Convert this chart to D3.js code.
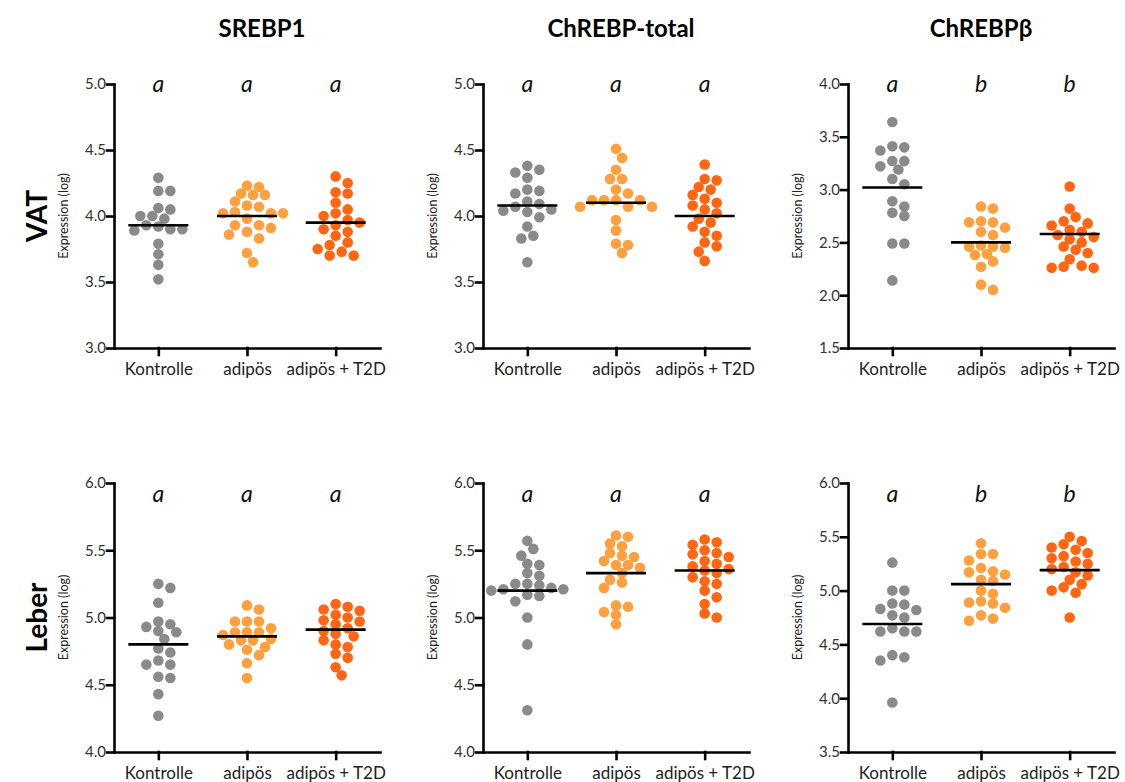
<!DOCTYPE html>
<html>
<head>
<meta charset="utf-8">
<script src="https://cdn.jsdelivr.net/npm/d3@7"></script>
<style>
  body { margin: 0; background: #fff; }
  text { font-family: Lato, "Open Sans", sans-serif; }
</style>
</head>
<body>
<svg id="chart" width="1125" height="782"></svg>
<script>
const groups = ['Kontrolle', 'adipös', 'adipös + T2D'];
const groupColors = ['#8a8a8a', '#ffa040', '#ff6614'];
const genes = ['SREBP1', 'ChREBP-total', 'ChREBPβ'];
const tissues = ['VAT', 'Leber'];

// VAT - SREBP1
const srebp1Vat = [
    [4.29, 4.19, 4.19, 4.05, 4.06, 4.00, 4.00, 3.93, 3.98, 3.90, 3.89, 3.92, 3.90, 3.79, 3.71, 3.63, 3.52],
    [4.23, 4.22, 4.17, 4.16, 4.16, 4.11, 4.08, 4.07, 4.03, 4.02, 4.02, 4.02, 3.98, 3.93, 3.93, 3.91, 3.88, 3.86, 3.83, 3.72, 3.65],
    [4.30, 4.25, 4.18, 4.17, 4.10, 4.05, 4.02, 4.00, 3.97, 3.95, 3.93, 3.90, 3.88, 3.85, 3.80, 3.78, 3.75, 3.73, 3.70, 3.70],
];
const srebp1VatMeans = [3.93, 4.00, 3.95];
// VAT - ChREBP-total
const chrebpVat = [
    [4.38, 4.33, 4.29, 4.35, 4.19, 4.20, 4.17, 4.11, 4.09, 4.07, 4.04, 4.05, 4.03, 3.99, 3.92, 3.85, 3.83, 3.65],
    [4.51, 4.44, 4.35, 4.28, 4.28, 4.20, 4.17, 4.12, 4.12, 4.12, 4.12, 4.07, 4.07, 4.07, 3.97, 3.89, 3.79, 3.78, 3.72],
    [4.39, 4.28, 4.27, 4.22, 4.20, 4.16, 4.13, 4.10, 4.08, 4.05, 4.02, 3.98, 3.95, 3.92, 3.88, 3.85, 3.80, 3.77, 3.73, 3.66],
];
const chrebpVatMeans = [4.08, 4.10, 4.00];
// VAT - ChREBPbeta
const chrebpbVat = [
    [3.64, 3.41, 3.37, 3.40, 3.27, 3.22, 3.19, 3.27, 3.10, 3.05, 2.89, 2.84, 2.78, 2.75, 2.49, 2.49, 2.14],
    [2.84, 2.82, 2.70, 2.69, 2.69, 2.64, 2.60, 2.57, 2.47, 2.46, 2.46, 2.45, 2.38, 2.39, 2.32, 2.27, 2.10, 2.05],
    [3.03, 2.82, 2.74, 2.70, 2.68, 2.66, 2.62, 2.60, 2.57, 2.55, 2.53, 2.50, 2.46, 2.43, 2.40, 2.34, 2.28, 2.27, 2.26, 2.26],
];
const chrebpbVatMeans = [3.02, 2.50, 2.58];
// Leber - SREBP1
const srebp1Leber = [
    [5.25, 5.22, 5.11, 4.93, 4.95, 4.97, 4.90, 4.89, 4.84, 4.77, 4.74, 4.68, 4.65, 4.65, 4.55, 4.56, 4.43, 4.27],
    [5.09, 5.06, 4.97, 4.97, 4.97, 4.92, 4.89, 4.89, 4.87, 4.89, 4.80, 4.83, 4.84, 4.83, 4.78, 4.76, 4.72, 4.66, 4.55],
    [5.10, 5.08, 5.06, 5.05, 5.02, 5.00, 4.98, 4.97, 4.95, 4.92, 4.90, 4.88, 4.86, 4.83, 4.80, 4.78, 4.73, 4.70, 4.63, 4.57],
];
const srebp1LeberMeans = [4.80, 4.86, 4.91];
// Leber - ChREBP-total
const chrebpLeber = [
    [5.57, 5.51, 5.46, 5.40, 5.39, 5.33, 5.31, 5.25, 5.24, 5.25, 5.21, 5.22, 5.21, 5.20, 5.16, 5.17, 5.12, 5.00, 4.80, 4.31],
    [5.60, 5.61, 5.55, 5.53, 5.48, 5.45, 5.46, 5.42, 5.39, 5.37, 5.39, 5.33, 5.28, 5.26, 5.22, 5.09, 5.08, 5.04, 5.02, 4.95],
    [5.58, 5.56, 5.54, 5.50, 5.48, 5.47, 5.45, 5.42, 5.40, 5.38, 5.36, 5.35, 5.33, 5.30, 5.27, 5.25, 5.20, 5.15, 5.10, 5.03, 5.00],
];
const chrebpLeberMeans = [5.20, 5.33, 5.35];
// Leber - ChREBPbeta
const chrebpbLeber = [
    [5.26, 5.00, 5.00, 4.83, 4.87, 4.88, 4.82, 4.77, 4.75, 4.62, 4.62, 4.62, 4.65, 4.38, 4.35, 4.40, 3.96],
    [5.44, 5.34, 5.34, 5.28, 5.21, 5.17, 5.18, 5.15, 5.09, 5.10, 5.00, 4.97, 4.90, 4.89, 4.88, 4.84, 4.77, 4.74, 4.72],
    [5.50, 5.46, 5.43, 5.40, 5.38, 5.35, 5.32, 5.30, 5.27, 5.25, 5.22, 5.20, 5.17, 5.14, 5.10, 5.06, 5.03, 5.00, 4.98, 4.75],
];
const chrebpbLeberMeans = [4.69, 5.06, 5.19];

const vatDomains = [[3.0, 5.0], [3.0, 5.0], [1.5, 4.0]];
const leberDomains = [[4.0, 6.0], [4.0, 6.0], [3.5, 6.0]];
const vatLetters = [['a', 'a', 'a'], ['a', 'a', 'a'], ['a', 'b', 'b']];
const leberLetters = [['a', 'a', 'a'], ['a', 'a', 'a'], ['a', 'b', 'b']];

const panels = [
    { row: 0, col: 0, data: srebp1Vat, means: srebp1VatMeans, domain: vatDomains[0], letters: vatLetters[0] },
    { row: 0, col: 1, data: chrebpVat, means: chrebpVatMeans, domain: vatDomains[1], letters: vatLetters[1] },
    { row: 0, col: 2, data: chrebpbVat, means: chrebpbVatMeans, domain: vatDomains[2], letters: vatLetters[2] },
    { row: 1, col: 0, data: srebp1Leber, means: srebp1LeberMeans, domain: leberDomains[0], letters: leberLetters[0] },
    { row: 1, col: 1, data: chrebpLeber, means: chrebpLeberMeans, domain: leberDomains[1], letters: leberLetters[1] },
    { row: 1, col: 2, data: chrebpbLeber, means: chrebpbLeberMeans, domain: leberDomains[2], letters: leberLetters[2] },
];

// layout
const axisX = [114, 483, 848];
const rowTop = [84, 483];
const rowBottom = [348, 752];
const letterY = [92, 502];
const titleX = [262, 621, 981];
const plotW = 266;
const dotR = 5.3;

const svg = d3.select('#chart');

// simple beeswarm: each dot goes to the smallest horizontal offset that is free
// (dots may overlap a little, like the original)
function swarm(values, y) {
    const step = 6;
    const minDist = 2 * dotR - 1.2;
    const placed = [];
    values
        .map((v) => ({ v, y: y(v) }))
        .sort((a, b) => a.y - b.y)
        .forEach((p) => {
            for (let k = 0; k < 60; k++) {
                const off = (k % 2 === 1 ? 1 : -1) * Math.ceil(k / 2) * step;
                const free = placed.every((q) => Math.hypot(q.dx - off, q.y - p.y) >= minDist);
                if (free) {
                    p.dx = off;
                    break;
                }
            }
            placed.push(p);
        });
    return placed;
}

function drawPanel(p) {
    const x0 = axisX[p.col];
    const y = d3.scaleLinear().domain(p.domain).range([rowBottom[p.row], rowTop[p.row]]);
    const x = d3.scalePoint().domain(groups).range([x0, x0 + plotW]).padding(0.5);
    const g = svg.append('g');

    // dots
    p.data.forEach((vals, i) => {
        g.append('g')
            .selectAll('circle')
            .data(swarm(vals, y))
            .enter()
            .append('circle')
            .attr('cx', (d) => x(groups[i]) + d.dx)
            .attr('cy', (d) => d.y)
            .attr('r', dotR)
            .style('fill', groupColors[i]);
    });

    // mean lines
    g.selectAll('.mean')
        .data(p.means)
        .enter()
        .append('line')
        .attr('class', 'mean')
        .attr('x1', (d, i) => x(groups[i]) - 30)
        .attr('x2', (d, i) => x(groups[i]) + 30)
        .attr('y1', (d) => y(d))
        .attr('y2', (d) => y(d))
        .style('stroke', '#000')
        .style('stroke-width', 2.6);

    // axes
    const ticks = d3.range(p.domain[0], p.domain[1] + 0.01, 0.5);
    const yAxis = g.append('g')
        .attr('transform', `translate(${ x0 },0)`)
        .call(d3.axisLeft(y).tickValues(ticks).tickFormat(d3.format('.1f')).tickSize(7).tickSizeOuter(0).tickPadding(1));
    const xAxis = g.append('g')
        .attr('transform', `translate(0,${ rowBottom[p.row] })`)
        .call(d3.axisBottom(x).tickSize(7).tickSizeOuter(0).tickPadding(8));
    [yAxis, xAxis].forEach((a) => {
        a.selectAll('path, line').style('stroke', '#000').style('stroke-width', 2.6).style('stroke-linecap', 'square');
        a.selectAll('text').style('font-family', 'Lato, "Open Sans", sans-serif').style('fill', '#333');
    });
    yAxis.selectAll('text').style('font-size', '15px');
    xAxis.selectAll('text').style('font-size', '17px').style('fill', '#222');

    // axis title
    g.append('text')
        .text('Expression (log)')
        .attr('transform', `translate(${ x0 - 46 },${ (rowTop[p.row] + rowBottom[p.row]) / 2 }) rotate(-90)`)
        .style('text-anchor', 'middle')
        .style('font-size', '12.5px')
        .style('fill', '#222');

    // significance letters
    g.selectAll('.letter')
        .data(p.letters)
        .enter()
        .append('text')
        .attr('class', 'letter')
        .text((d) => d)
        .attr('x', (d, i) => x(groups[i]))
        .attr('y', letterY[p.row])
        .style('text-anchor', 'middle')
        .style('font-style', 'italic')
        .style('font-size', '23px')
        .style('fill', '#111');
}

panels.forEach(drawPanel);

// column titles
svg.selectAll('.title')
    .data(genes)
    .enter()
    .append('text')
    .attr('class', 'title')
    .text((d) => d)
    .attr('x', (d, i) => titleX[i])
    .attr('y', 37)
    .style('text-anchor', 'middle')
    .style('font-weight', 'bold')
    .style('font-size', '24px');

// row labels
svg.selectAll('.rowlabel')
    .data(tissues)
    .enter()
    .append('text')
    .attr('class', 'rowlabel')
    .text((d) => d)
    .attr('transform', (d, i) => `translate(47,${ (rowTop[i] + rowBottom[i]) / 2 }) rotate(-90)`)
    .style('text-anchor', 'middle')
    .style('font-weight', 'bold')
    .style('font-size', '28px');
</script>
</body>
</html>
